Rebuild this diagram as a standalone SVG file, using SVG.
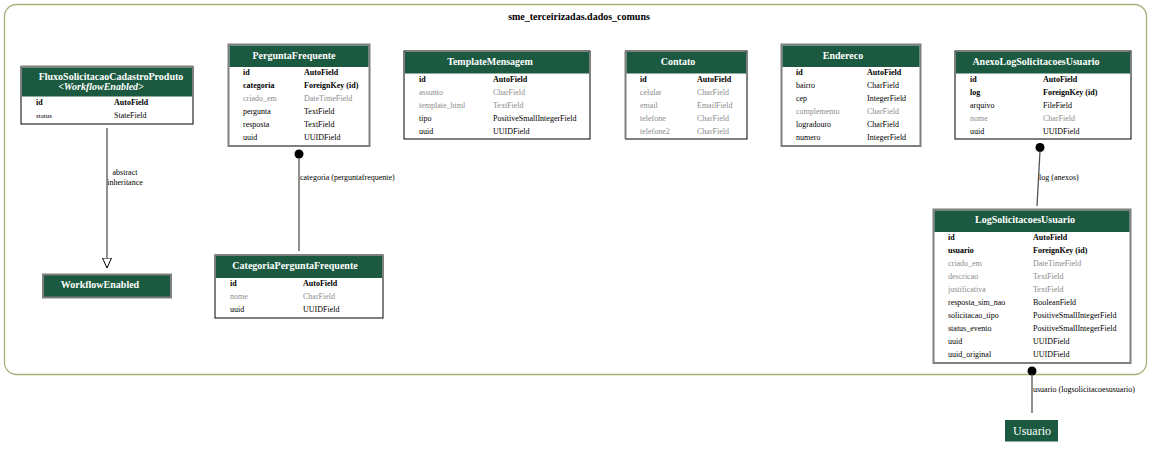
<svg xmlns="http://www.w3.org/2000/svg" width="1151" height="452" viewBox="0 0 1151 452">
<defs>
<style>
text{font-family:"Liberation Serif","Times New Roman",serif;}
.ttl{font-size:10px;font-weight:bold;fill:#fff;text-anchor:middle;}
.f{font-size:8px;fill:#000;}
.b{font-weight:bold;}
.g{fill:#8c8c8c;}
.lbl{font-size:8px;fill:#000;}
.hdr{fill:#1b5a40;}
.bx{fill:#fff;}
.gray{stroke:#7f7f7f;stroke-width:2;}
.blk{stroke:#000;stroke-width:1;}
.edge{stroke:#555;stroke-width:1.3;fill:none;}
</style>
<marker id="tri" viewBox="0 0 10 10" refX="10" refY="5" markerWidth="10" markerHeight="10" markerUnits="userSpaceOnUse" orient="auto">
<path d="M0,0.5 L10,5 L0,9.5 Z" fill="#fff" stroke="#000" stroke-width="1"/>
</marker>
</defs>
<rect width="1151" height="452" fill="#fff"/>
<g id="cluster">
<rect x="4.5" y="4.5" width="1142" height="370" rx="12" fill="none" stroke="#a4b27a" stroke-width="1.3"/>
<text x="579" y="20" style="font-size:10px;font-weight:bold;text-anchor:middle">sme_terceirizadas.dados_comuns</text>
</g>
<g id="connectors">
<line class="edge" x1="107" y1="128" x2="107" y2="268" marker-end="url(#tri)"/>
<text class="lbl" x="125" y="175" text-anchor="middle">abstract</text>
<text class="lbl" x="125" y="185" text-anchor="middle">inheritance</text>
<circle cx="299" cy="154" r="4.5" fill="#000"/>
<line class="edge" x1="299" y1="158" x2="299" y2="251"/>
<text class="lbl" x="300" y="180">categoria (perguntafrequente)</text>
<circle cx="1040" cy="147.5" r="4.5" fill="#000"/>
<line class="edge" x1="1040" y1="151" x2="1037" y2="206" stroke="#000"/>
<text class="lbl" x="1039" y="180">log (anexos)</text>
<circle cx="1032" cy="371" r="4.5" fill="#000"/>
<line class="edge" x1="1032" y1="374" x2="1032" y2="413"/>
<text class="lbl" x="1033" y="392">usuario (logsolicitacoesusuario)</text>
</g>
<g id="FluxoSolicitacaoCadastroProduto">
<rect class="bx blk" x="21" y="66.5" width="172" height="57.5"/>
<line x1="21" y1="66.5" x2="193" y2="66.5" stroke="#7f7f7f" stroke-width="2"/>
<rect class="hdr" x="22" y="67.5" width="170" height="29"/>
<text class="ttl" x="111" y="80">FluxoSolicitacaoCadastroProduto</text>
<text class="ttl" x="101" y="90" font-style="italic">&lt;WorkflowEnabled&gt;</text>
<text class="f b" x="36" y="105">id</text><text class="f b" x="114" y="105">AutoField</text>
<text class="f" x="36" y="118" style="font-size:7px">status</text><text class="f" x="114" y="118">StateField</text>
</g>
<g id="WorkflowEnabled">
<rect class="hdr gray" x="43" y="274.5" width="128" height="23"/>
<text class="ttl" x="100" y="288">WorkflowEnabled</text>
</g>
<g id="PerguntaFrequente">
<rect class="bx gray" x="228.5" y="44.5" width="141" height="101.5"/>
<rect class="hdr" x="229.5" y="45.5" width="139" height="21.5"/>
<text class="ttl" x="294" y="59">PerguntaFrequente</text>
<text class="f b" x="243" y="75">id</text><text class="f b" x="304" y="75">AutoField</text>
<text class="f b" x="243" y="88">categoria</text><text class="f b" x="304" y="88">ForeignKey (id)</text>
<text class="f g" x="243" y="101">criado_em</text><text class="f g" x="304" y="101">DateTimeField</text>
<text class="f" x="243" y="114">pergunta</text><text class="f" x="304" y="114">TextField</text>
<text class="f" x="243" y="127">resposta</text><text class="f" x="304" y="127">TextField</text>
<text class="f" x="243" y="140">uuid</text><text class="f" x="304" y="140">UUIDField</text>
</g>
<g id="CategoriaPerguntaFrequente">
<rect class="bx blk" x="215" y="255" width="168" height="63"/>
<line x1="215" y1="255" x2="383" y2="255" stroke="#7f7f7f" stroke-width="2"/>
<rect class="hdr" x="216" y="256" width="166" height="22"/>
<text class="ttl" x="295" y="269">CategoriaPerguntaFrequente</text>
<text class="f b" x="230" y="286">id</text><text class="f b" x="303" y="286">AutoField</text>
<text class="f g" x="230" y="299">nome</text><text class="f g" x="303" y="299">CharField</text>
<text class="f" x="230" y="312">uuid</text><text class="f" x="303" y="312">UUIDField</text>
</g>
<g id="TemplateMensagem">
<rect class="bx blk" x="404" y="51" width="186" height="88"/>
<rect class="hdr" x="405" y="52" width="184" height="21.5"/>
<text class="ttl" x="490" y="65">TemplateMensagem</text>
<text class="f b" x="419" y="82">id</text><text class="f b" x="493" y="82">AutoField</text>
<text class="f g" x="419" y="95">assunto</text><text class="f g" x="493" y="95">CharField</text>
<text class="f g" x="419" y="108">template_html</text><text class="f g" x="493" y="108">TextField</text>
<text class="f" x="419" y="121">tipo</text><text class="f" x="493" y="121">PositiveSmallIntegerField</text>
<text class="f" x="419" y="134">uuid</text><text class="f" x="493" y="134">UUIDField</text>
</g>
<g id="Contato">
<rect class="bx blk" x="625.5" y="51" width="121.5" height="88"/>
<line x1="625.5" y1="51" x2="625.5" y2="139" stroke="#7f7f7f" stroke-width="2"/>
<rect class="hdr" x="626.5" y="52" width="119.5" height="21.5"/>
<text class="ttl" x="678" y="65">Contato</text>
<text class="f b" x="640" y="82">id</text><text class="f b" x="697" y="82">AutoField</text>
<text class="f g" x="640" y="95">celular</text><text class="f g" x="697" y="95">CharField</text>
<text class="f g" x="640" y="108">email</text><text class="f g" x="697" y="108">EmailField</text>
<text class="f g" x="640" y="121">telefone</text><text class="f g" x="697" y="121">CharField</text>
<text class="f g" x="640" y="134">telefone2</text><text class="f g" x="697" y="134">CharField</text>
</g>
<g id="Endereco">
<rect class="bx gray" x="781.5" y="44.5" width="139" height="101.5"/>
<rect class="hdr" x="782.5" y="45.5" width="137" height="21.5"/>
<text class="ttl" x="843" y="59">Endereco</text>
<text class="f b" x="796" y="75">id</text><text class="f b" x="867" y="75">AutoField</text>
<text class="f" x="796" y="88">bairro</text><text class="f" x="867" y="88">CharField</text>
<text class="f" x="796" y="101">cep</text><text class="f" x="867" y="101">IntegerField</text>
<text class="f g" x="796" y="114">complemento</text><text class="f g" x="867" y="114">CharField</text>
<text class="f" x="796" y="127">logradouro</text><text class="f" x="867" y="127">CharField</text>
<text class="f" x="796" y="140">numero</text><text class="f" x="867" y="140">IntegerField</text>
</g>
<g id="AnexoLogSolicitacoesUsuario">
<rect class="bx blk" x="955" y="51" width="176" height="88"/>
<rect class="hdr" x="956" y="52" width="174" height="21.5"/>
<text class="ttl" x="1036" y="65">AnexoLogSolicitacoesUsuario</text>
<text class="f b" x="970" y="82">id</text><text class="f b" x="1043" y="82">AutoField</text>
<text class="f b" x="970" y="95">log</text><text class="f b" x="1043" y="95">ForeignKey (id)</text>
<text class="f" x="970" y="108">arquivo</text><text class="f" x="1043" y="108">FileField</text>
<text class="f g" x="970" y="121">nome</text><text class="f g" x="1043" y="121">CharField</text>
<text class="f" x="970" y="134">uuid</text><text class="f" x="1043" y="134">UUIDField</text>
</g>
<g id="LogSolicitacoesUsuario">
<rect class="bx gray" x="933.5" y="209.5" width="197" height="153.5"/>
<rect class="hdr" x="934.5" y="210.5" width="195" height="21.5"/>
<text class="ttl" x="1025" y="223">LogSolicitacoesUsuario</text>
<text class="f b" x="948" y="240">id</text><text class="f b" x="1033" y="240">AutoField</text>
<text class="f b" x="948" y="253">usuario</text><text class="f b" x="1033" y="253">ForeignKey (id)</text>
<text class="f g" x="948" y="266">criado_em</text><text class="f g" x="1033" y="266">DateTimeField</text>
<text class="f g" x="948" y="279">descricao</text><text class="f g" x="1033" y="279">TextField</text>
<text class="f g" x="948" y="292">justificativa</text><text class="f g" x="1033" y="292">TextField</text>
<text class="f" x="948" y="305">resposta_sim_nao</text><text class="f" x="1033" y="305">BooleanField</text>
<text class="f" x="948" y="318">solicitacao_tipo</text><text class="f" x="1033" y="318">PositiveSmallIntegerField</text>
<text class="f" x="948" y="331">status_evento</text><text class="f" x="1033" y="331">PositiveSmallIntegerField</text>
<text class="f" x="948" y="344">uuid</text><text class="f" x="1033" y="344">UUIDField</text>
<text class="f" x="948" y="357">uuid_original</text><text class="f" x="1033" y="357">UUIDField</text>
</g>
<g id="Usuario">
<rect class="hdr" x="1005" y="420" width="53" height="21.5"/>
<text x="1032" y="434.5" style="font-size:12px;fill:#fff;text-anchor:middle">Usuario</text>
</g>
</svg>
